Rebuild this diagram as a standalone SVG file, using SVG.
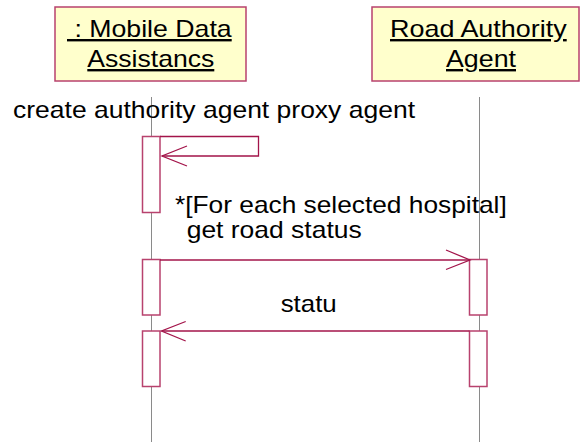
<svg xmlns="http://www.w3.org/2000/svg" width="582" height="442" viewBox="0 0 582 442">
<style>
.obj{fill:#FFFFCC;stroke:#B8426E;stroke-width:1.5}
.act{fill:#FFFFFF;stroke:#B8426E;stroke-width:1.5}
.life{stroke:#8A8A8A;stroke-width:1;fill:none}
.t{font-family:"Liberation Sans",Arial,sans-serif;font-size:24px;fill:#000}
.u{text-decoration:underline}
.msg{stroke:#A3144A;stroke-width:1.3;fill:none}
</style>
<rect width="582" height="442" fill="#FFFFFF"/>
<g id="mobile">
<line class="life" x1="151.5" y1="97" x2="151.5" y2="442"/>
<rect class="obj" x="55" y="7" width="191" height="74"/>
<text class="t u" x="67" y="37" textLength="164.7" lengthAdjust="spacingAndGlyphs" xml:space="preserve"> : Mobile Data</text>
<text class="t u" x="87.3" y="67" textLength="127" lengthAdjust="spacingAndGlyphs">Assistancs</text>
<rect class="act" x="142.5" y="136.5" width="17.5" height="76"/>
<rect class="act" x="142.5" y="259.5" width="17.5" height="55.5"/>
<rect class="act" x="142.5" y="331" width="17.5" height="55.5"/>
</g>
<g id="road">
<line class="life" x1="479.5" y1="97" x2="479.5" y2="442"/>
<rect class="obj" x="372" y="7" width="207" height="74"/>
<text class="t u" x="390" y="37" textLength="176.7" lengthAdjust="spacingAndGlyphs">Road Authority</text>
<text class="t u" x="446" y="67" textLength="70" lengthAdjust="spacingAndGlyphs">Agent</text>
<rect class="act" x="469.5" y="259.5" width="17.5" height="55.5"/>
<rect class="act" x="469.5" y="331" width="17.5" height="55.5"/>
</g>
<g id="connectors">
<path class="msg" d="M160,136.5 H258.5 V156 H162"/>
<path class="msg" d="M187,146 L162,156 L187,166"/>
<text class="t" x="13" y="118" textLength="402" lengthAdjust="spacingAndGlyphs">create authority agent proxy agent</text>
<line class="msg" x1="160" y1="260" x2="469.5" y2="260"/>
<path class="msg" d="M446,250 L470,260 L446,269.5"/>
<text class="t" x="175" y="213.3" textLength="331.7" lengthAdjust="spacingAndGlyphs">*[For each selected hospital]</text>
<text class="t" x="186.7" y="238.3" textLength="175" lengthAdjust="spacingAndGlyphs">get road status</text>
<line class="msg" x1="469.5" y1="331" x2="161.5" y2="331"/>
<path class="msg" d="M185.7,321.5 L161.5,331 L185.7,341"/>
<text class="t" x="280.7" y="311.7" textLength="56" lengthAdjust="spacingAndGlyphs">statu</text>
</g>
</svg>
